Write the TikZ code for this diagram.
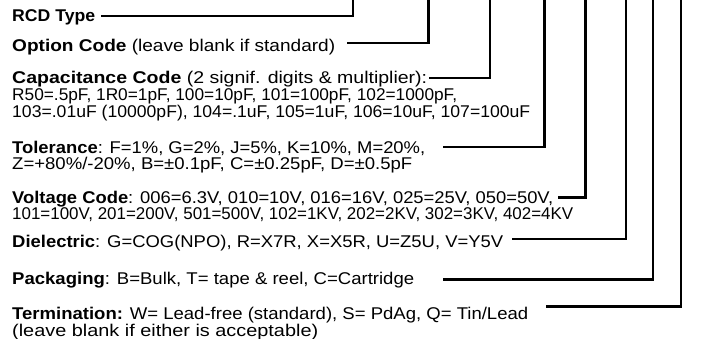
\documentclass[tikz,border=0pt]{standalone}
\usepackage{fontspec}
\setmainfont{Liberation Sans}
\newcommand\rowfit[2]{\resizebox{#1pt}{\height}{#2}}
\begin{document}
\begin{tikzpicture}[x=1pt,y=-1pt,
  rowtext/.style={anchor=base west, inner sep=0pt, font=\fontsize{17}{19}\selectfont},
  conn/.style={line width=2.2pt}]
\useasboundingbox (0,0) rectangle (707,339);
\node[rowtext] (rcd) at (12,22) {\rowfit{83}{\textbf{RCD Type}}};
\node[rowtext] (opt) at (12,51.5) {\rowfit{323}{\textbf{Option Code} (leave blank if standard)}};
\node[rowtext] (cap1) at (12,83.5) {\rowfit{415}{\textbf{Capacitance Code} (2 signif. digits \& multiplier):}};
\node[rowtext] (cap2) at (12,101) {\rowfit{445}{R50=.5pF, 1R0=1pF, 100=10pF, 101=100pF, 102=1000pF,}};
\node[rowtext] (cap3) at (12,117.5) {\rowfit{518}{103=.01uF (10000pF), 104=.1uF, 105=1uF, 106=10uF, 107=100uF}};
\node[rowtext] (tol1) at (12,153.5) {\rowfit{413}{\textbf{Tolerance}: F=1\%, G=2\%, J=5\%, K=10\%, M=20\%,}};
\node[rowtext] (tol2) at (12,170) {\rowfit{400}{Z=+80\%/-20\%, B=±0.1pF, C=±0.25pF, D=±0.5pF}};
\node[rowtext] (volt1) at (12,203.5) {\rowfit{541}{\textbf{Voltage Code}: 006=6.3V, 010=10V, 016=16V, 025=25V, 050=50V,}};
\node[rowtext] (volt2) at (12,220) {\rowfit{561}{101=100V, 201=200V, 501=500V, 102=1KV, 202=2KV, 302=3KV, 402=4KV}};
\node[rowtext] (diel) at (12,247.5) {\rowfit{491}{\textbf{Dielectric}: G=COG(NPO), R=X7R, X=X5R, U=Z5U, V=Y5V}};
\node[rowtext] (pack) at (12,284.5) {\rowfit{402}{\textbf{Packaging}: B=Bulk, T= tape \& reel, C=Cartridge}};
\node[rowtext] (term1) at (12,319.5) {\rowfit{516}{\textbf{Termination:} W= Lead-free (standard), S= PdAg, Q= Tin/Lead}};
\node[rowtext] (term2) at (12,336) {\rowfit{306}{(leave blank if either is acceptable)}};
\coordinate (s1) at (101,16);    \coordinate (t1) at (353,0);
\coordinate (s2) at (347,43);    \coordinate (t2) at (428.5,0);
\coordinate (s3) at (429,78);    \coordinate (t3) at (490,0);
\coordinate (s4) at (443,147);   \coordinate (t4) at (544.5,0);
\coordinate (s5) at (558,197.5); \coordinate (t5) at (585.5,0);
\coordinate (s6) at (512,239);   \coordinate (t6) at (626,0);
\coordinate (s7) at (443,279.5); \coordinate (t7) at (653,0);
\coordinate (s8) at (546,306.5); \coordinate (t8) at (681,0);
\foreach \i in {1,...,8} \draw[conn] (s\i) -| (t\i);
\end{tikzpicture}
\end{document}
